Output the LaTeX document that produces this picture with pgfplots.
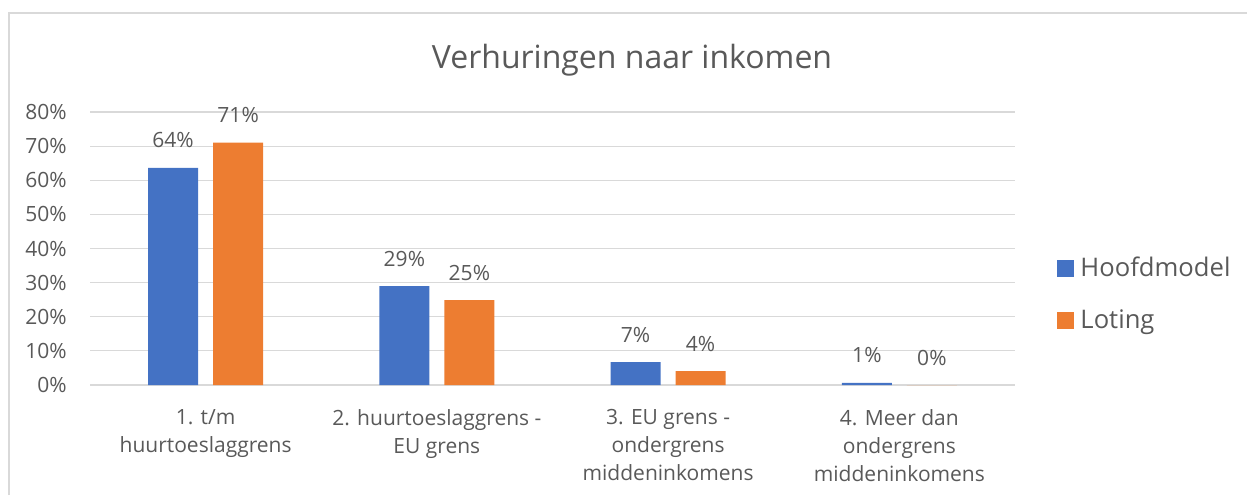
\documentclass[border=0pt]{standalone}
\usepackage{fontspec}
\setmainfont{Open Sans}
\usepackage{pgfplots}
\pgfplotsset{compat=1.18}
\definecolor{txt}{HTML}{595959}
\definecolor{gridc}{HTML}{D9D9D9}
\definecolor{hoofd}{HTML}{4472C4}
\definecolor{loting}{HTML}{ED7D31}

\begin{document}
\begin{tikzpicture}
\path[use as bounding box] (0,0) rectangle (623.5pt,247.5pt);
\draw[gridc, line width=1pt] (4.5pt,0) -- (4.5pt,241pt) -- (623.5pt,241pt);
\node[txt, font=\fontsize{16}{19}\selectfont] at (316pt,217.5pt) {Verhuringen naar inkomen};
\begin{axis}[
    at={(45pt,55pt)}, anchor=south west,
    scale only axis, width=462.5pt, height=136.5pt,
    ybar=7.5pt, bar width=25pt,
    xmin=-0.5, xmax=3.5, ymin=0, ymax=80,
    xtick={0,1,2,3},
    xticklabels={{1. t/m\\huurtoeslaggrens},{2. huurtoeslaggrens -\\EU grens},{3. EU grens -\\ondergrens\\middeninkomens},{4. Meer dan\\ondergrens\\middeninkomens}},
    ytick={0,10,...,80},
    yticklabels={0\%,10\%,20\%,30\%,40\%,50\%,60\%,70\%,80\%},
    ymajorgrids, grid style={gridc, line width=0.6pt},
    axis line style={draw=none},
    major tick length=0pt,
    tick label style={txt, font=\fontsize{10.5}{14}\selectfont, inner sep=0pt},
    yticklabel style={anchor=east, xshift=-11.5pt},
    xticklabel style={align=center, anchor=north, yshift=-12pt},
    /pgf/number format/assume math mode=true,
    nodes near coords={\pgfmathprintnumber[fixed,precision=0]{\pgfplotspointmeta}\%},
    every node near coord/.append style={txt, font=\fontsize{10.5}{14}\selectfont, anchor=base, inner sep=0pt, yshift=10pt},
    legend style={draw=none, fill=none, at={(1.039,0.333)}, anchor=west,
        font=\fontsize{12.8}{15}\selectfont, text=txt, row sep=15pt,
        nodes={inner sep=0pt}, column sep=3pt},
    legend cell align=left,
    legend image code/.code={\fill[#1] (0pt,-4.25pt) rectangle (8.5pt,4.25pt);},
    clip=false,
]
\addplot[draw=none, fill=hoofd] coordinates {(0,63.6) (1,29.0) (2,6.7) (3,0.6)};
\addplot[draw=none, fill=loting] coordinates {(0,71.0) (1,24.9) (2,4.1) (3,0)};
\legend{Hoofdmodel,Loting}
\end{axis}
\end{tikzpicture}
\end{document}
